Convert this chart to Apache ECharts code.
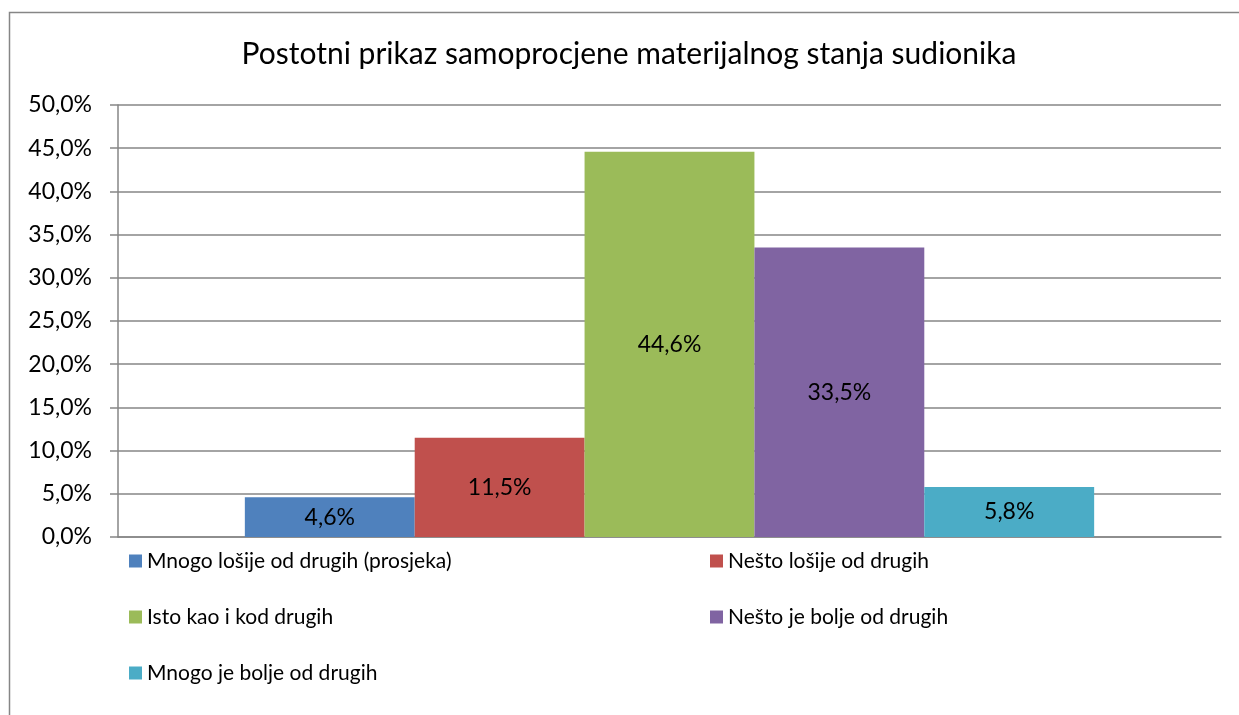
<!DOCTYPE html>
<html>
<head>
<meta charset="utf-8">
<script src="https://cdn.jsdelivr.net/npm/echarts@6/dist/echarts.min.js"></script>
<style>
html,body{margin:0;padding:0;background:#fff;}
#chart{width:1239px;height:715px;}
</style>
</head>
<body>
<div id="chart"></div>
<script>
var titleText = 'Postotni prikaz samoprocjene materijalnog stanja sudionika';
var categories = [''];
var seriesNames = ['Mnogo lošije od drugih (prosjeka)', 'Nešto lošije od drugih', 'Isto kao i kod drugih', 'Nešto je bolje od drugih', 'Mnogo je bolje od drugih'];
var seriesValues = [4.6, 11.5, 44.6, 33.5, 5.8];
var seriesColors = ['#4F81BD', '#C0504D', '#9BBB59', '#8064A2', '#4BACC6'];
var yMin = 0, yMax = 50, yStep = 5;

var FONT = 'Lato';
function fmt(v){ return v.toFixed(1).replace('.', ',') + '%'; }

var chart = echarts.init(document.getElementById('chart'), null, {renderer:'canvas'});
var series = seriesNames.map(function(n, i){
  return {
    name: n, type: 'bar', data: [seriesValues[i]],
    barGap: '0%', barCategoryGap: '23%',
    itemStyle: {color: seriesColors[i]},
    label: {show: true, position: 'inside', color: '#000', fontFamily: FONT, fontSize: 23,
      formatter: function(p){ return fmt(p.value); }},
    emphasis: {disabled: true}
  };
});
var legendText = {color: '#000', fontFamily: FONT, fontSize: 21, lineHeight: 22};
chart.setOption({
  animation: false,
  title: {text: titleText, left: 629, top: 37, textAlign: 'center', padding: 0,
    textStyle: {color: '#000', fontFamily: FONT, fontSize: 30, fontWeight: 'normal', lineHeight: 35}},
  graphic: [{type: 'rect', shape: {x: 9.5, y: 12.5, width: 1300, height: 800},
    style: {fill: 'none', stroke: '#868686', lineWidth: 1.5}, silent: true, z: -1}],
  grid: {left: 118, right: 18, top: 105, bottom: 178, containLabel: false},
  legend: [
    {data: [seriesNames[0], seriesNames[2], seriesNames[4]], orient: 'vertical', left: 129, top: 550, padding: 0,
     itemWidth: 13, itemHeight: 13, itemGap: 34, textStyle: legendText, icon: 'rect', selectedMode: false},
    {data: [seriesNames[1], seriesNames[3]], orient: 'vertical', left: 710, top: 550, padding: 0,
     itemWidth: 13, itemHeight: 13, itemGap: 34, textStyle: legendText, icon: 'rect', selectedMode: false}
  ],
  xAxis: {type: 'category', data: categories,
    axisLine: {lineStyle: {color: '#868686', width: 1.5}},
    axisTick: {show: false}, axisLabel: {show: false}},
  yAxis: {type: 'value', min: yMin, max: yMax, interval: yStep,
    axisLine: {show: true, lineStyle: {color: '#868686', width: 1.5}},
    axisTick: {show: true, length: 8, lineStyle: {color: '#868686', width: 1.5}},
    splitLine: {lineStyle: {color: '#868686', width: 1.5}},
    axisLabel: {color: '#000', fontFamily: FONT, fontSize: 23, margin: 26,
      formatter: function(v){ return fmt(v); }}},
  series: series
});
</script>
</body>
</html>
